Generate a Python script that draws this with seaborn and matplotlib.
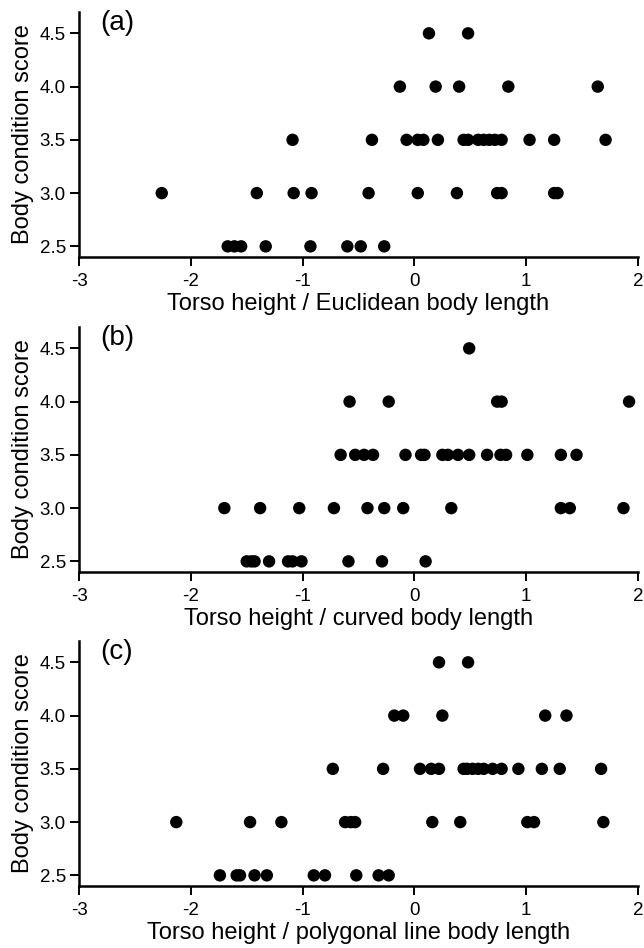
import numpy as np
import pandas as pd
import matplotlib
matplotlib.use("Agg")
import matplotlib.pyplot as plt
import seaborn as sns

# -----------------------------
# Data
# -----------------------------
euclid_45 = [0.13, 0.48]
euclid_40 = [-0.13, 0.19, 0.40, 0.84, 1.64]
euclid_35 = [-1.09, -0.38, -0.07, 0.03, 0.08, 0.21, 0.44, 0.48, 0.57, 0.62,
             0.67, 0.72, 0.78, 1.03, 1.25, 1.71]
euclid_30 = [-2.26, -1.41, -1.08, -0.92, -0.41, 0.03, 0.38, 0.74, 0.78, 1.25, 1.28]
euclid_25 = [-1.67, -1.61, -1.55, -1.33, -0.93, -0.60, -0.48, -0.27]

curved_45 = [0.49]
curved_40 = [-0.58, -0.23, 0.74, 0.78, 1.92]
curved_35 = [-0.66, -0.53, -0.45, -0.37, -0.08, 0.06, 0.09, 0.25, 0.30, 0.39,
             0.49, 0.65, 0.77, 0.82, 1.01, 1.31, 1.45]
curved_30 = [-1.70, -1.38, -1.03, -0.72, -0.42, -0.27, -0.10, 0.33, 1.31, 1.39, 1.87]
curved_25 = [-1.50, -1.46, -1.43, -1.30, -1.13, -1.09, -1.01, -0.59, -0.29, 0.10]

poly_45 = [0.22, 0.48]
poly_40 = [-0.18, -0.10, 0.25, 1.17, 1.36]
poly_35 = [-0.73, -0.28, 0.05, 0.15, 0.22, 0.44, 0.47, 0.52, 0.57, 0.62,
           0.70, 0.78, 0.93, 1.14, 1.30, 1.67]
poly_30 = [-2.13, -1.47, -1.19, -0.62, -0.57, -0.53, 0.16, 0.41, 1.01, 1.07, 1.69]
poly_25 = [-1.74, -1.59, -1.56, -1.43, -1.32, -0.90, -0.80, -0.52, -0.32, -0.23]

scores = [4.5, 4.0, 3.5, 3.0, 2.5]
x_ticks = [-3, -2, -1, 0, 1, 2]
y_ticks = [2.5, 3.0, 3.5, 4.0, 4.5]


def build(groups):
    rows = []
    for score, xs in zip(scores, groups):
        for x in xs:
            rows.append({"ratio": x, "score": score})
    return pd.DataFrame(rows)


panels = [
    ("(a)", "Torso height / Euclidean body length",
     build([euclid_45, euclid_40, euclid_35, euclid_30, euclid_25])),
    ("(b)", "Torso height / curved body length",
     build([curved_45, curved_40, curved_35, curved_30, curved_25])),
    ("(c)", "Torso height / polygonal line body length",
     build([poly_45, poly_40, poly_35, poly_30, poly_25])),
]

# -----------------------------
# Style
# -----------------------------
sns.set_theme(style="ticks")
plt.rcParams["font.family"] = ["Liberation Sans", "DejaVu Sans"]

fig = plt.figure(figsize=(6.44, 9.48), dpi=100)

bottoms = [0.7289, 0.3966, 0.0654]

for (tag, xlabel, df), bottom in zip(panels, bottoms):
    ax = fig.add_axes([0.1227, bottom, 0.868, 0.2584])
    sns.scatterplot(data=df, x="ratio", y="score", ax=ax,
                    color="black", edgecolor="none", s=80)
    ax.set_xlim(-3, 2)
    ax.set_ylim(2.4, 4.7)
    ax.set_xticks(x_ticks)
    ax.set_xticklabels([str(t) for t in x_ticks], fontsize=13.5)
    ax.set_yticks(y_ticks)
    ax.set_yticklabels([f"{t:.1f}" for t in y_ticks], fontsize=13.5)
    ax.tick_params(axis="both", direction="out", length=6.5, width=1.4,
                   pad=3, color="black", labelcolor="black")
    ax.tick_params(axis="x", pad=5)
    ax.set_xlabel(xlabel, fontsize=17, labelpad=2, color="black")
    ax.set_ylabel("Body condition score", fontsize=17, labelpad=4, color="black")
    for side in ["top", "right"]:
        ax.spines[side].set_visible(False)
    for side in ["left", "bottom"]:
        ax.spines[side].set_linewidth(1.8)
        ax.spines[side].set_color("black")
    ax.text(0.038, 1.01, tag, transform=ax.transAxes, fontsize=20,
            va="top", ha="left", color="black")

fig.savefig("out.png", dpi=100)
